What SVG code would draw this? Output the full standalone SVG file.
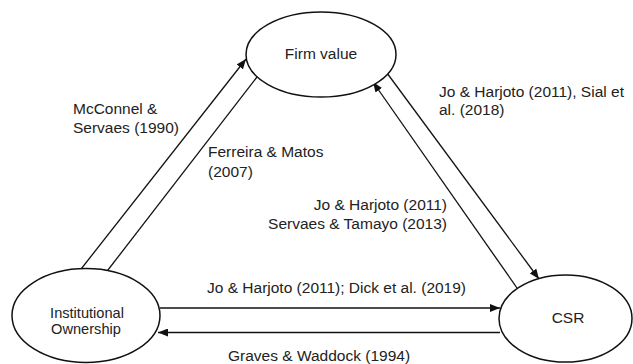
<svg xmlns="http://www.w3.org/2000/svg" width="633" height="364" viewBox="0 0 633 364">
<style>
.node{fill:#fff;stroke:#111;stroke-width:1.5}
.edge{stroke:#111;stroke-width:1.3;fill:none}
.lbl{font-family:"Liberation Sans",Arial,sans-serif;font-size:15.5px;fill:#222}
.ntx{font-family:"Liberation Sans",Arial,sans-serif;font-size:14.6px;fill:#222;text-anchor:middle}
</style>
<defs>
<marker id="ah" viewBox="0 0 10 8" refX="10" refY="4" markerWidth="10" markerHeight="8" markerUnits="userSpaceOnUse" orient="auto">
<path d="M0,0 L10,4 L0,8 Z" fill="#111"/>
</marker>
</defs>
<rect width="633" height="364" fill="#fff"/>
<g id="connectors">
<line class="edge" x1="74" y1="278" x2="246" y2="59" marker-end="url(#ah)"/>
<line class="edge" x1="257" y1="77" x2="101" y2="279" marker-end="url(#ah)"/>
<line class="edge" x1="517" y1="288" x2="373" y2="82" marker-end="url(#ah)"/>
<line class="edge" x1="387" y1="73" x2="539" y2="279" marker-end="url(#ah)"/>
<line class="edge" x1="160" y1="308" x2="500" y2="308" marker-end="url(#ah)"/>
<line class="edge" x1="500" y1="332.5" x2="158" y2="332.5" marker-end="url(#ah)"/>
</g>
<g id="firm-value">
<ellipse class="node" cx="321" cy="54.5" rx="75" ry="42.5"/>
<text class="ntx" x="321" y="59" style="font-size:15.5px">Firm value</text>
</g>
<g id="institutional-ownership">
<ellipse class="node" cx="86" cy="315.5" rx="74" ry="47"/>
<text class="ntx" x="87" y="318">Institutional</text>
<text class="ntx" x="86" y="334">Ownership</text>
</g>
<g id="csr">
<ellipse class="node" cx="565.5" cy="318.5" rx="66.5" ry="43.5"/>
<text class="ntx" x="568" y="323" style="font-size:15.5px">CSR</text>
</g>
<g id="labels">
<text class="lbl" x="73" y="114">McConnel &amp;</text>
<text class="lbl" x="73" y="133">Servaes (1990)</text>
<text class="lbl" x="208" y="157">Ferreira &amp; Matos</text>
<text class="lbl" x="208" y="176.5">(2007)</text>
<text class="lbl" x="439" y="96.5">Jo &amp; Harjoto (2011), Sial et</text>
<text class="lbl" x="439" y="115">al. (2018)</text>
<text class="lbl" x="447" y="210" text-anchor="end">Jo &amp; Harjoto (2011)</text>
<text class="lbl" x="447" y="229" text-anchor="end">Servaes &amp; Tamayo (2013)</text>
<text class="lbl" x="207" y="293">Jo &amp; Harjoto (2011); Dick et al. (2019)</text>
<text class="lbl" x="228" y="361">Graves &amp; Waddock (1994)</text>
</g>
</svg>
